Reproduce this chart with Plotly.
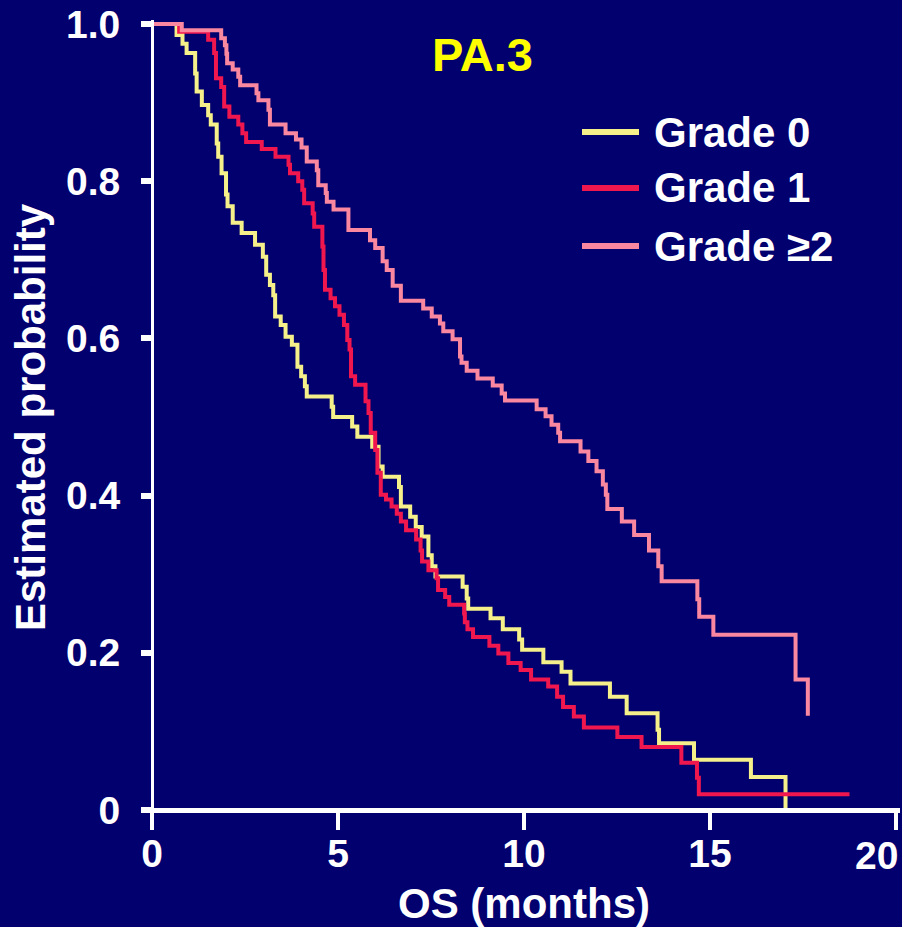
import plotly.graph_objects as go

# ---- data ----
grade0_t = [0, 0.66, 0.82, 0.93, 1.16, 1.20, 1.34, 1.51, 1.58, 1.74,
            1.78, 1.87, 1.99, 2.03, 2.17, 2.41, 2.77, 2.98, 3.07, 3.17,
            3.26, 3.31, 3.46, 3.59, 3.76, 3.91, 4.01, 4.11, 4.16, 4.83,
            4.87, 5.38, 5.52, 5.92, 6.09, 6.20, 6.64, 6.69, 6.94, 7.09,
            7.25, 7.43, 7.52, 7.62, 8.35, 8.46, 8.50, 9.10, 9.43, 9.87,
            9.95, 10.52, 11.01, 11.25, 12.31, 12.76, 13.59, 13.63, 14.57, 16.10,
            17.03]
grade0_s = [1.0, 0.986, 0.975, 0.963, 0.937, 0.914, 0.897, 0.884, 0.872, 0.848,
            0.831, 0.810, 0.783, 0.768, 0.747, 0.734, 0.719, 0.704, 0.681, 0.668,
            0.655, 0.628, 0.617, 0.602, 0.592, 0.564, 0.552, 0.539, 0.526, 0.513,
            0.500, 0.488, 0.475, 0.462, 0.437, 0.424, 0.411, 0.386, 0.373, 0.360,
            0.348, 0.324, 0.310, 0.297, 0.284, 0.269, 0.256, 0.244, 0.230, 0.217,
            0.204, 0.188, 0.176, 0.161, 0.144, 0.123, 0.102, 0.085, 0.064, 0.042,
            0.0]

grade1_t = [0, 0.73, 1.51, 1.67, 1.72, 1.86, 1.94, 2.08, 2.32, 2.43,
            2.53, 2.95, 3.32, 3.67, 3.71, 3.93, 4.04, 4.09, 4.32, 4.36,
            4.58, 4.61, 4.65, 4.80, 4.92, 5.04, 5.16, 5.25, 5.31, 5.35,
            5.46, 5.74, 5.82, 5.88, 6.00, 6.06, 6.15, 6.29, 6.44, 6.58,
            6.69, 6.83, 7.10, 7.22, 7.26, 7.43, 7.65, 7.69, 7.88, 7.99,
            8.39, 8.41, 8.48, 8.63, 9.07, 9.31, 9.58, 9.91, 10.19, 10.65,
            10.89, 11.05, 11.34, 11.61, 12.51, 13.16, 14.23, 14.65, 14.70, 18.75]
grade1_s = [1.0, 0.990, 0.980, 0.963, 0.931, 0.920, 0.895, 0.882, 0.872, 0.861,
            0.850, 0.841, 0.831, 0.821, 0.810, 0.800, 0.789, 0.772, 0.759, 0.742,
            0.717, 0.687, 0.662, 0.651, 0.641, 0.630, 0.617, 0.598, 0.586, 0.552,
            0.541, 0.520, 0.505, 0.480, 0.458, 0.429, 0.401, 0.395, 0.386, 0.377,
            0.367, 0.356, 0.344, 0.330, 0.316, 0.305, 0.295, 0.280, 0.271, 0.261,
            0.250, 0.239, 0.230, 0.220, 0.209, 0.199, 0.187, 0.178, 0.166, 0.157,
            0.144, 0.131, 0.119, 0.105, 0.093, 0.080, 0.060, 0.041, 0.020, 0.020]

grade2_t = [0, 0.80, 1.86, 1.96, 2.00, 2.02, 2.17, 2.32, 2.37, 2.81,
            2.86, 3.13, 3.17, 3.59, 3.87, 4.02, 4.16, 4.43, 4.47, 4.67,
            4.70, 4.88, 5.28, 5.86, 6.00, 6.20, 6.31, 6.47, 6.69, 7.29,
            7.52, 7.74, 7.83, 8.08, 8.28, 8.32, 8.46, 8.75, 9.16, 9.40,
            9.49, 10.34, 10.58, 10.74, 10.92, 10.97, 11.52, 11.73, 11.95, 12.12,
            12.20, 12.24, 12.63, 12.96, 13.36, 13.61, 13.70, 14.66, 14.71, 15.09,
            17.30, 17.63]
grade2_s = [1.0, 0.992, 0.982, 0.973, 0.962, 0.950, 0.942, 0.933, 0.922, 0.912,
            0.903, 0.891, 0.872, 0.861, 0.853, 0.843, 0.825, 0.814, 0.795, 0.785,
            0.774, 0.764, 0.738, 0.725, 0.715, 0.698, 0.687, 0.667, 0.648, 0.638,
            0.628, 0.619, 0.609, 0.599, 0.577, 0.569, 0.559, 0.549, 0.540, 0.530,
            0.521, 0.510, 0.501, 0.490, 0.480, 0.469, 0.456, 0.444, 0.431, 0.414,
            0.401, 0.383, 0.367, 0.350, 0.330, 0.310, 0.291, 0.268, 0.246, 0.223,
            0.166, 0.120]

series_names = ["Grade 0", "Grade 1", "Grade \u22652"]
series_colors = ["#F5F08A", "#F0174F", "#F8879F"]
x_tickvals = [0, 5, 10, 15, 20]
x_ticktext = ["0", "5", "10", "15", ""]
y_tickvals = [0, 0.2, 0.4, 0.6, 0.8, 1.0]
y_ticktext = ["0", "0.2", "0.4", "0.6", "0.8", "1.0"]

BG = "#02006E"
FONT = "Liberation Sans, Arial, sans-serif"

fig = go.Figure()
for t, s, name, col in zip([grade0_t, grade1_t, grade2_t],
                           [grade0_s, grade1_s, grade2_s],
                           series_names, series_colors):
    fig.add_trace(go.Scatter(x=t, y=s, mode="lines", name=name,
                             line=dict(color=col, width=4, shape="hv"),
                             showlegend=False))

W, H = 902, 927
L, R, T, B = 148, 2, 20, 113
pw, ph = W - L - R, H - T - B


def px2paper_x(px):
    return (px - L) / pw


def py2paper_y(py):
    return (H - B - py) / ph


fig.update_layout(
    width=W, height=H,
    margin=dict(l=L, r=R, t=T, b=B, pad=0),
    paper_bgcolor=BG, plot_bgcolor=BG,
    font=dict(family=FONT, color="white", size=40, weight="bold"),
    xaxis=dict(range=[-4 / 37.2, 20 + 4 / 37.2], tickvals=x_tickvals, ticktext=x_ticktext,
               showgrid=False, zeroline=False, showline=True, linecolor="white", linewidth=5,
               ticks="outside", ticklen=17, tickwidth=3.5, tickcolor="white",
               tickfont=dict(family=FONT, size=39, color="white", weight="bold"),
               ticklabelstandoff=-10,
               anchor="free", position=py2paper_y(810)),
    yaxis=dict(range=[-4 / 786.5, 1 + 4 / 786.5], tickvals=y_tickvals, ticktext=y_ticktext,
               showgrid=False, zeroline=False, showline=True, linecolor="white", linewidth=3,
               ticks="outside", ticklen=10, tickwidth=5.5, tickcolor="white",
               tickfont=dict(family=FONT, size=39, color="white", weight="bold"),
               ticklabelstandoff=13,
               anchor="free", position=px2paper_x(152)),
)

ann = []
# title
ann.append(dict(text="PA.3", xref="paper", yref="paper", x=px2paper_x(482), y=py2paper_y(54),
                xanchor="center", yanchor="middle", showarrow=False,
                font=dict(family=FONT, size=47, color="#FFFF00", weight="bold")))
# axis titles
ann.append(dict(text="OS (months)", xref="paper", yref="paper", x=px2paper_x(524), y=py2paper_y(903),
                xanchor="center", yanchor="middle", showarrow=False,
                font=dict(family=FONT, size=42, color="white", weight="bold")))
ann.append(dict(text="Estimated probability", xref="paper", yref="paper", x=px2paper_x(30),
                y=py2paper_y(417), xanchor="center", yanchor="middle", showarrow=False, textangle=-90,
                font=dict(family=FONT, size=42, color="white", weight="bold")))
# last x tick label, kept inside the canvas
ann.append(dict(text="20", xref="x", yref="paper", x=20, y=py2paper_y(855), xanchor="right",
                yanchor="middle", xshift=4, showarrow=False,
                font=dict(family=FONT, size=39, color="white", weight="bold")))

# legend (manual)
shapes = []
leg_y = [132, 188, 246]
for name, col, py in zip(series_names, series_colors, leg_y):
    shapes.append(dict(type="line", xref="paper", yref="paper",
                       x0=px2paper_x(582), x1=px2paper_x(639), y0=py2paper_y(py), y1=py2paper_y(py),
                       line=dict(color=col, width=6)))
    ann.append(dict(text=name, xref="paper", yref="paper", x=px2paper_x(652), y=py2paper_y(py),
                    xanchor="left", yanchor="middle", showarrow=False,
                    font=dict(family=FONT, size=42, color="white", weight="bold")))

fig.update_layout(annotations=ann, shapes=shapes)
fig.write_html("out.html", config={"displayModeBar": False},
               post_script="document.body.style.margin='0';document.body.style.padding='0';"
                           "document.body.style.background='" + BG + "';")
